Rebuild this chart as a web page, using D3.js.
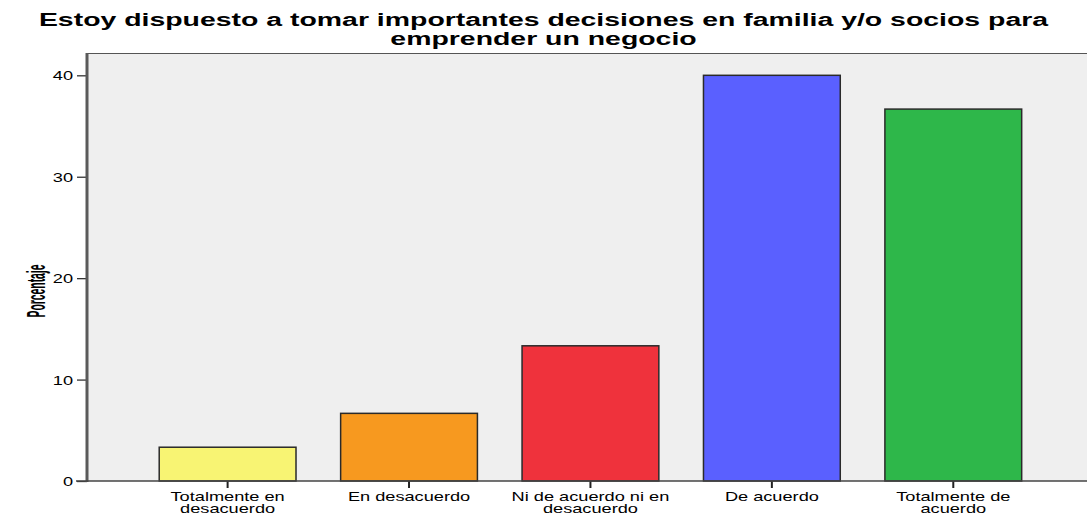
<!DOCTYPE html>
<html>
<head>
<meta charset="utf-8">
<script src="https://cdn.jsdelivr.net/npm/d3@7"></script>
<style>
  html, body { margin: 0; padding: 0; background: #ffffff; }
  svg { display: block; }
  text { font-family: "Liberation Sans", Arial, sans-serif; fill: #000; }
</style>
</head>
<body>
<svg id="chart" width="1087" height="514"></svg>
<script>
// ---- data ----
const categories = ["Totalmente en\ndesacuerdo", "En desacuerdo", "Ni de acuerdo ni en\ndesacuerdo", "De acuerdo", "Totalmente de\nacuerdo"];
const values = [3.33, 6.67, 13.33, 40.0, 36.67];
const barColors = ["#F8F473", "#F7991F", "#EF323C", "#5A60FF", "#2EB74A"];
const yTicks = [0, 10, 20, 30, 40];
const titleLines = ["Estoy dispuesto a tomar importantes decisiones en familia y/o socios para", "emprender un negocio"];
const yLabel = "Porcentaje";

// ---- layout ----
const W = 1087, H = 514;
const plot = { left: 87, right: 1087, top: 53, bottom: 481 };
const SX = 1.4;   // horizontal text stretch (axis texts)
const TSX = 1.58; // horizontal stretch for title

const svg = d3.select("#chart");

const x = d3.scaleBand()
  .domain(categories)
  .range([136.9, 1044])
  .paddingInner(0.246)
  .paddingOuter(0.123);

const y = d3.scaleLinear()
  .domain([0, 42.2])
  .range([plot.bottom, plot.top]);

// plot background
svg.append("rect")
  .attr("x", plot.left).attr("y", plot.top)
  .attr("width", plot.right - plot.left).attr("height", plot.bottom - plot.top)
  .attr("fill", "#EFEFEF");

// top frame line
svg.append("line")
  .attr("x1", plot.left).attr("x2", plot.right)
  .attr("y1", plot.top + 0.5).attr("y2", plot.top + 0.5)
  .attr("stroke", "#555").attr("stroke-width", 1.2);

// bars
svg.append("g").selectAll("rect")
  .data(categories)
  .join("rect")
  .attr("x", d => x(d))
  .attr("width", x.bandwidth())
  .attr("y", (d, i) => y(values[i]))
  .attr("height", (d, i) => y(0) - y(values[i]))
  .attr("fill", (d, i) => barColors[i])
  .attr("stroke", "#2a2a2a")
  .attr("stroke-width", 1.5);

// y axis
const yAxis = svg.append("g")
  .attr("transform", `translate(${plot.left},0)`)
  .call(d3.axisLeft(y).tickValues(yTicks).tickSize(10).tickPadding(4).tickFormat(d3.format("d")));
yAxis.select(".domain").remove();
yAxis.selectAll(".tick line").attr("stroke", "#333").attr("stroke-width", 1.3);
yAxis.selectAll(".tick text")
  .attr("x", null).attr("dy", null)
  .attr("text-anchor", "end")
  .attr("font-size", 13)
  .attr("transform", `translate(-14,4.5) scale(${SX},1)`);

// y axis line (thick)
svg.append("line")
  .attr("x1", plot.left).attr("x2", plot.left)
  .attr("y1", plot.top).attr("y2", plot.bottom + 1)
  .attr("stroke", "#5a5a5a").attr("stroke-width", 3);

// x axis
const xAxis = svg.append("g")
  .attr("transform", `translate(0,${plot.bottom})`)
  .call(d3.axisBottom(x).tickSize(7).tickFormat(""));
xAxis.select(".domain").remove();
xAxis.selectAll(".tick line").attr("stroke", "#222").attr("stroke-width", 2);
xAxis.selectAll(".tick text").remove();
xAxis.selectAll(".tick").each(function(d) {
  const lines = d.split("\n");
  lines.forEach((ln, i) => {
    d3.select(this).append("text")
      .attr("text-anchor", "middle")
      .attr("font-size", 13)
      .attr("fill", "#000")
      .attr("transform", `translate(0,${19.5 + i * 12.5}) scale(${SX},1)`)
      .text(ln);
  });
});

// bottom axis line
svg.append("line")
  .attr("x1", 76).attr("x2", plot.right)
  .attr("y1", plot.bottom).attr("y2", plot.bottom)
  .attr("stroke", "#444").attr("stroke-width", 1.6);

// title
titleLines.forEach((ln, i) => {
  svg.append("text")
    .attr("text-anchor", "middle")
    .attr("font-size", 18)
    .attr("font-weight", "bold")
    .attr("transform", `translate(${W / 2},${26 + i * 19}) scale(${TSX},1)`)
    .text(ln);
});

// y label
svg.append("text")
  .attr("text-anchor", "middle")
  .attr("font-size", 14)
  .attr("font-weight", "bold")
  .attr("transform", `translate(44.5,${(plot.top + plot.bottom) / 2 + 24}) rotate(-90) scale(0.74,1.8)`)
  .text(yLabel);
</script>
</body>
</html>
